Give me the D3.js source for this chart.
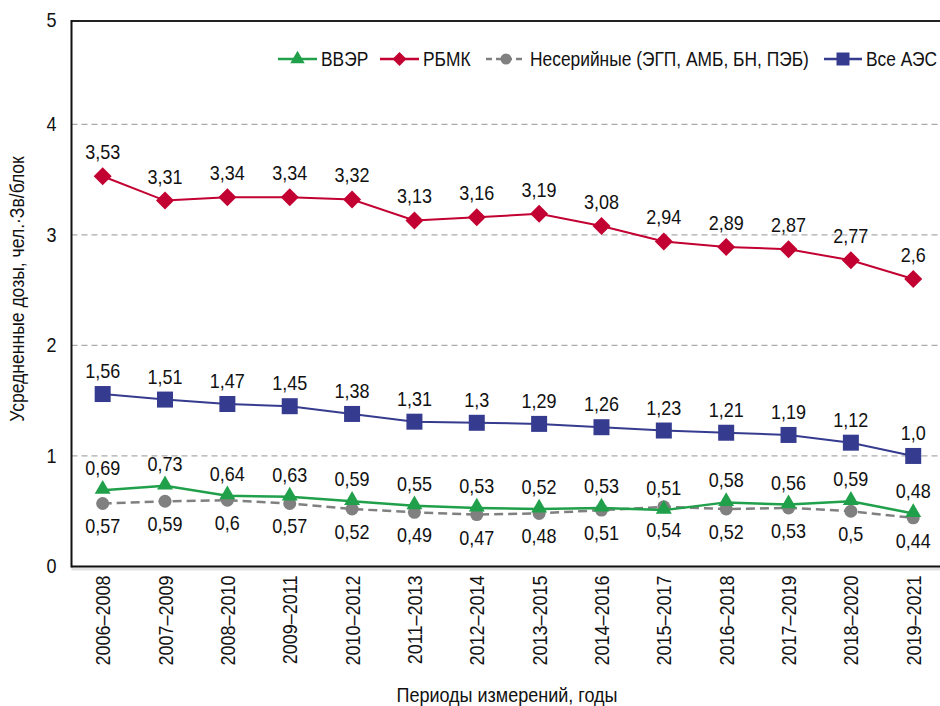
<!DOCTYPE html>
<html>
<head>
<meta charset="utf-8">
<script src="https://cdn.jsdelivr.net/npm/d3@7"></script>
<style>
  html, body { margin: 0; padding: 0; background: #fff; }
  svg { display: block; }
  text { font-family: "Liberation Sans", Arial, sans-serif; fill: #111; }
</style>
</head>
<body>
<svg id="chart" width="940" height="706"></svg>
<script>
// Measurement periods (three-year windows)
const periods = ["2006–2008", "2007–2009", "2008–2010", "2009–2011", "2010–2012", "2011–2013",
  "2012–2014", "2013–2015", "2014–2016", "2015–2017", "2016–2018", "2017–2019", "2018–2020", "2019–2021"];

// Average collective dose, person·Sv per unit
const vver       = [0.69, 0.73, 0.64, 0.63, 0.59, 0.55, 0.53, 0.52, 0.53, 0.51, 0.58, 0.56, 0.59, 0.48];
const rbmk       = [3.53, 3.31, 3.34, 3.34, 3.32, 3.13, 3.16, 3.19, 3.08, 2.94, 2.89, 2.87, 2.77, 2.6];
const nonSerial  = [0.57, 0.59, 0.6, 0.57, 0.52, 0.49, 0.47, 0.48, 0.51, 0.54, 0.52, 0.53, 0.5, 0.44];
const allPlants  = [1.56, 1.51, 1.47, 1.45, 1.38, 1.31, 1.3, 1.29, 1.26, 1.23, 1.21, 1.19, 1.12, 1.0];

const yTicks = [0, 1, 2, 3, 4];
const yTopLabel = "5";

const seriesNames = ["ВВЭР", "РБМК", "Несерийные (ЭГП, АМБ, БН, ПЭБ)", "Все АЭС"];

const svg = d3.select("#chart");
const plotLeft = 71.5, plotRight = 940, plotTop = 21, plotBottom = 566.5;
const FONT = 20;
const NARROW = 0.9; // horizontal squeeze giving a condensed typeface look

const x = d3.scalePoint().domain(periods).range([plotLeft, 944.4]).padding(0.5);
const y = d3.scaleLinear().domain([0, 4]).range([plotBottom, 124.3]);

// decimal comma; whole numbers keep one decimal place
const fmt = v => (Number.isInteger(v) ? v.toFixed(1) : String(v)).replace(".", ",");

// horizontal dashed gridlines
svg.append("g").selectAll("line").data(yTicks.filter(d => d > 0)).join("line")
  .attr("x1", plotLeft).attr("x2", plotRight)
  .attr("y1", d => y(d)).attr("y2", d => y(d))
  .attr("stroke", "#aaaaaa").attr("stroke-width", 1.3).attr("stroke-dasharray", "6,4");

// frame: top rule, left axis, bottom axis with soft shadow
svg.append("line").attr("x1", plotLeft).attr("x2", plotRight).attr("y1", plotTop).attr("y2", plotTop)
  .attr("stroke", "#222").attr("stroke-width", 2);
svg.append("line").attr("x1", plotLeft).attr("x2", plotRight).attr("y1", plotBottom + 2.5).attr("y2", plotBottom + 2.5)
  .attr("stroke", "#e2e2e2").attr("stroke-width", 3);

const yAxis = svg.append("g").attr("transform", `translate(${plotLeft},0)`)
  .call(d3.axisLeft(y).tickValues(yTicks).tickSize(0).tickPadding(15).tickFormat(d => String(d)));
yAxis.select(".domain").remove();
yAxis.selectAll("text").attr("font-size", FONT).attr("fill", "#111").style("font-family", null);
svg.append("text").attr("x", plotLeft - 15).attr("y", plotTop).attr("dy", "0.32em")
  .attr("text-anchor", "end").attr("font-size", FONT).text(yTopLabel);

svg.append("line").attr("x1", plotLeft).attr("x2", plotLeft).attr("y1", plotTop - 1).attr("y2", plotBottom + 1)
  .attr("stroke", "#111").attr("stroke-width", 2);

const xAxis = svg.append("g").attr("transform", `translate(0,${plotBottom})`)
  .call(d3.axisBottom(x).tickSize(0).tickPadding(0));
xAxis.select(".domain").attr("stroke", "#111").attr("stroke-width", 2)
  .attr("d", `M${plotLeft},0H${plotRight}`);
xAxis.selectAll("text")
  .attr("font-size", FONT).attr("fill", "#111").style("font-family", null)
  .attr("text-anchor", "end")
  .attr("transform", "rotate(-90)")
  .attr("x", -9).attr("y", 0).attr("dy", "0.35em");

// axis titles
svg.append("text").attr("transform", "translate(24,289) rotate(-90)")
  .attr("text-anchor", "middle").attr("font-size", 19.5).text("Усредненные дозы, чел.·Зв/блок");
svg.append("text").attr("x", 507).attr("y", 702)
  .attr("text-anchor", "middle").attr("font-size", FONT).text("Периоды измерений, годы");

// marker shapes
const triangle = d3.symbol().type(d3.symbolTriangle).size(110);
const diamond = "M0,-9L9,0L0,9L-9,0Z";
const square = "M-8,-8H8V8H-8Z";

const series = [
  { name: seriesNames[2], values: nonSerial, color: "#808080", width: 2.5, dash: "9,5",
    marker: g => g.append("circle").attr("r", 6.5), labelDy: 30 },
  { name: seriesNames[0], values: vver, color: "#20a04a", width: 2.5, dash: null,
    marker: g => g.append("path").attr("d", triangle).attr("transform", "translate(0,-1)"), labelDy: -15 },
  { name: seriesNames[1], values: rbmk, color: "#c20031", width: 2, dash: null,
    marker: g => g.append("path").attr("d", diamond), labelDy: -17 },
  { name: seriesNames[3], values: allPlants, color: "#353b8e", width: 2, dash: null,
    marker: g => g.append("path").attr("d", square), labelDy: -16 }
];

const line = d3.line().x((d, i) => x(periods[i])).y(d => y(d));

series.forEach(s => {
  const g = svg.append("g");
  g.append("path").datum(s.values).attr("d", line)
    .attr("fill", "none").attr("stroke", s.color).attr("stroke-width", s.width)
    .attr("stroke-dasharray", s.dash);
  s.values.forEach((v, i) => {
    const m = g.append("g").attr("transform", `translate(${x(periods[i])},${y(v)})`).attr("fill", s.color);
    s.marker(m);
  });
});

// value labels
series.forEach(s => {
  svg.append("g").selectAll("text").data(s.values).join("text")
    .attr("x", (d, i) => x(periods[i]))
    .attr("y", d => y(d) + s.labelDy)
    .attr("text-anchor", "middle").attr("font-size", FONT)
    .text(d => fmt(d));
});

// legend
const legendItems = [
  { name: seriesNames[0], color: "#20a04a", x0: 278, x1: 317, dash: null, marker: g => g.append("path").attr("d", d3.symbol().type(d3.symbolTriangle).size(90)) },
  { name: seriesNames[1], color: "#c20031", x0: 380, x1: 419, dash: null, marker: g => g.append("path").attr("d", "M0,-7L7,0L0,7L-7,0Z") },
  { name: seriesNames[2], color: "#808080", x0: 486, x1: 526, dash: "6,4", marker: g => g.append("circle").attr("r", 5.5) },
  { name: seriesNames[3], color: "#353b8e", x0: 824, x1: 862, dash: null, marker: g => g.append("path").attr("d", "M-6.5,-6.5H6.5V6.5H-6.5Z") }
];
const ly = 59;
legendItems.forEach(it => {
  const g = svg.append("g");
  g.append("line").attr("x1", it.x0).attr("x2", it.x1).attr("y1", ly).attr("y2", ly)
    .attr("stroke", it.color).attr("stroke-width", 2.5).attr("stroke-dasharray", it.dash);
  const m = g.append("g").attr("transform", `translate(${(it.x0 + it.x1) / 2},${ly})`).attr("fill", it.color);
  it.marker(m);
  g.append("text").attr("x", it.x1 + 4).attr("y", ly).attr("dy", "0.35em")
    .attr("font-size", 19.3).text(it.name);
});

// condense every text horizontally around its own anchor
svg.selectAll("text").each(function () {
  const t = d3.select(this);
  const ax = +t.attr("x") || 0;
  const prev = t.attr("transform") || "";
  t.attr("transform", `${prev} translate(${ax},0) scale(${NARROW},1) translate(${-ax},0)`);
});
</script>
</body>
</html>
